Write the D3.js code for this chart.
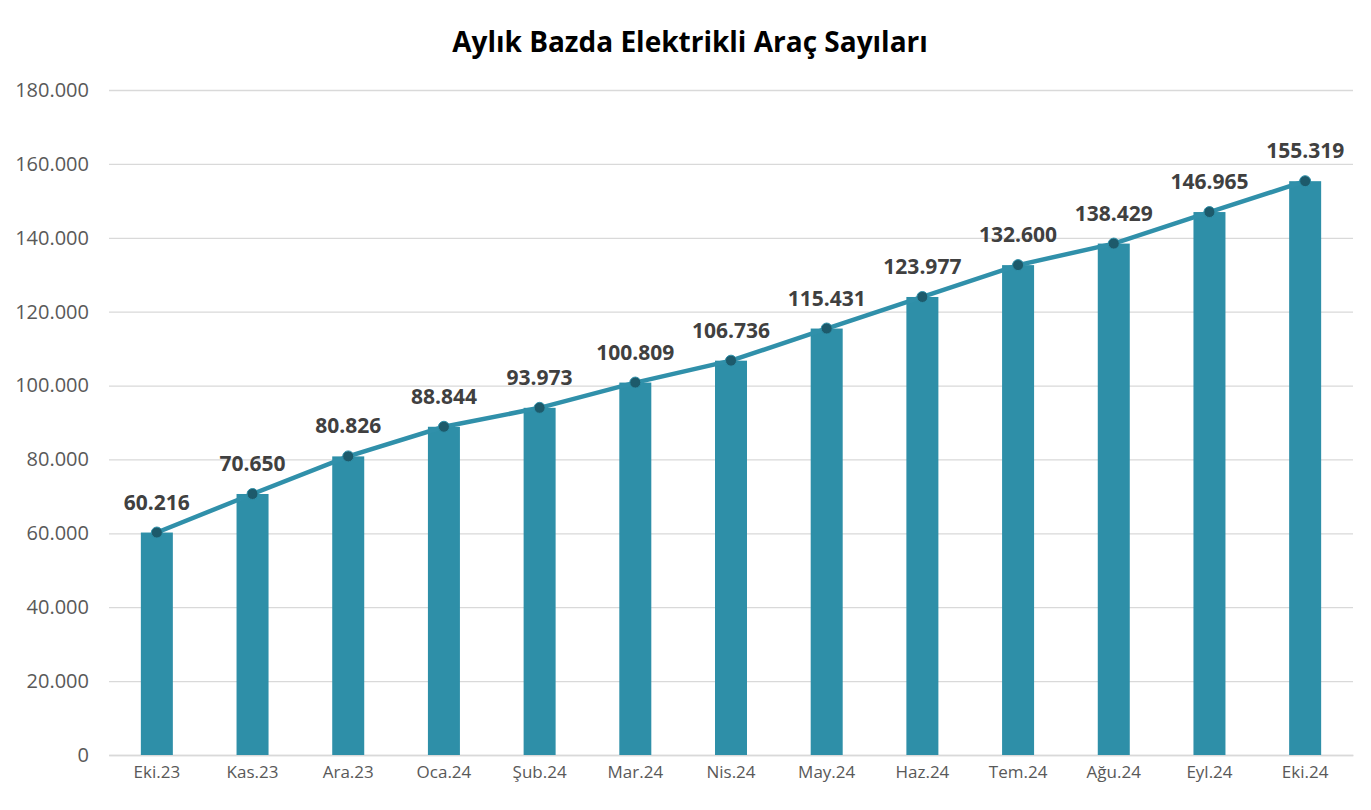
<!DOCTYPE html><html><head><meta charset="utf-8">
<script src="https://cdn.jsdelivr.net/npm/d3@7"></script>
<style>body{margin:0;background:#fff}</style></head><body>
<svg id="c" width="1371" height="810"></svg>
<script>
const categories=["Eki.23","Kas.23","Ara.23","Oca.24","Şub.24","Mar.24","Nis.24","May.24","Haz.24","Tem.24","Ağu.24","Eyl.24","Eki.24"];
const values=[60216,70650,80826,88844,93973,100809,106736,115431,123977,132600,138429,146965,155319];
const yTicks=[0,20000,40000,60000,80000,100000,120000,140000,160000,180000];
const fmt=v=>v===0?"0":d3.format(",")(v).replace(/,/g,".");
const svg=d3.select("#c");
const x=d3.scaleBand().domain(categories).range([109,1353]);
const y=d3.scaleLinear().domain([0,180000]).range([755,90]);
const font="'Open Sans',sans-serif";
svg.append("text").attr("x",690).attr("y",52).attr("text-anchor","middle").attr("font-family",font).attr("font-weight","bold").attr("font-size",28).attr("fill","#000").text("Aylık Bazda Elektrikli Araç Sayıları");
const ya=svg.append("g").attr("transform","translate(109,0)").call(d3.axisLeft(y).tickValues(yTicks).tickSize(-1244).tickFormat(fmt));
ya.select(".domain").remove();
ya.selectAll(".tick line").attr("stroke","#d9d9d9").attr("stroke-width",1.3);
ya.selectAll(".tick text").attr("x",-20).attr("font-family",font).attr("font-size",20).attr("fill","#595959");
const xa=svg.append("g").attr("transform","translate(0,755)").call(d3.axisBottom(x).tickSize(0));
xa.select(".domain").attr("stroke","#d9d9d9").attr("stroke-width",1.3);
xa.selectAll(".tick text").attr("dy",20).attr("font-family",font).attr("font-size",17).attr("fill","#595959");
const cx=d=>x(d)+x.bandwidth()/2;
svg.selectAll(".bar").data(values).enter().append("rect").attr("x",(d,i)=>cx(categories[i])-16).attr("width",32).attr("y",d=>y(d)).attr("height",d=>755-y(d)).attr("fill","#2e8fa8");
svg.append("path").datum(values).attr("fill","none").attr("stroke","#3090aa").attr("stroke-width",4.5).attr("d",d3.line().x((d,i)=>cx(categories[i])).y(d=>y(d)));
svg.selectAll(".dot").data(values).enter().append("circle").attr("cx",(d,i)=>cx(categories[i])).attr("cy",d=>y(d)).attr("r",5.5).attr("fill","#1d5a6b").attr("stroke","#2e8fa8").attr("stroke-width",1);
svg.selectAll(".lbl").data(values).enter().append("text").attr("x",(d,i)=>cx(categories[i])).attr("y",d=>y(d)-23).attr("text-anchor","middle").attr("font-family",font).attr("font-weight","bold").attr("font-size",21).attr("fill","#404040").text(fmt);
</script></body></html>
